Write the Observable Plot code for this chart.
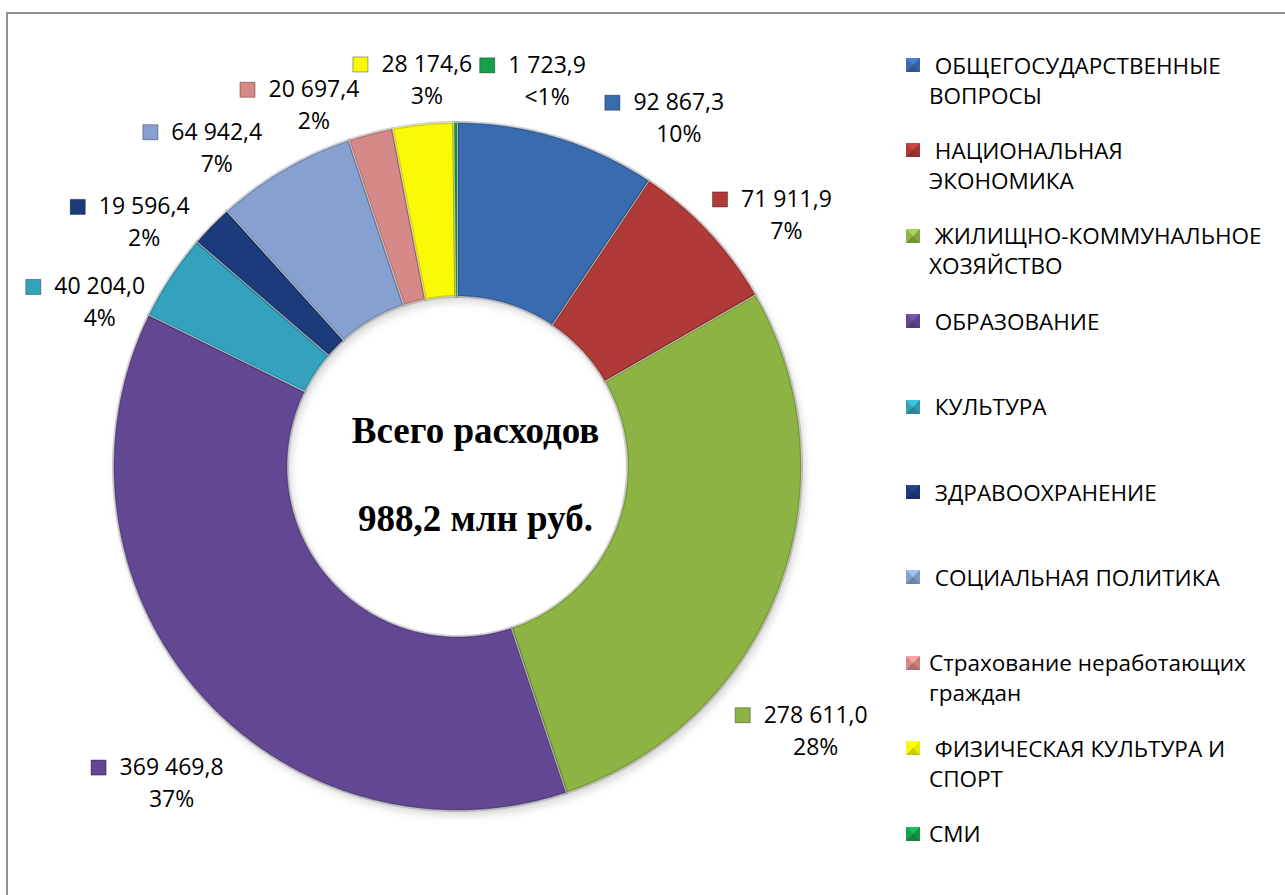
<!DOCTYPE html>
<html><head><meta charset="utf-8">
<script src="https://cdn.jsdelivr.net/npm/d3@7"></script>
<script src="https://cdn.jsdelivr.net/npm/@observablehq/plot@0.6"></script>
<style>
html,body{margin:0;padding:0;background:#fff;overflow:hidden}
#wrap{position:relative;width:1285px;height:895px;overflow:hidden}
#frame{position:absolute;left:6px;top:12px;width:1320px;height:920px;border:2px solid #8e8e8e;box-sizing:border-box}
#chart{position:absolute;left:0;top:0}
#legend{position:absolute;left:0;top:0;font-family:"Open Sans";font-size:22.5px;color:#000}
.item{position:absolute;left:929px;line-height:30px;white-space:pre}
.mk{position:absolute;left:906px;width:0;height:0;border-style:solid;border-width:7.5px}
</style></head>
<body><div id="wrap"><div id="frame"></div><div id="chart"></div><div id="legend"></div></div>
<script>
// ---- data ----
const categories = ["ОБЩЕГОСУДАРСТВЕННЫЕ ВОПРОСЫ","НАЦИОНАЛЬНАЯ ЭКОНОМИКА","ЖИЛИЩНО-КОММУНАЛЬНОЕ ХОЗЯЙСТВО","ОБРАЗОВАНИЕ","КУЛЬТУРА","ЗДРАВООХРАНЕНИЕ","СОЦИАЛЬНАЯ ПОЛИТИКА","Страхование неработающих граждан","ФИЗИЧЕСКАЯ КУЛЬТУРА И СПОРТ","СМИ"];
const legendLabels = [" ОБЩЕГОСУДАРСТВЕННЫЕ\nВОПРОСЫ"," НАЦИОНАЛЬНАЯ\nЭКОНОМИКА"," ЖИЛИЩНО-КОММУНАЛЬНОЕ\nХОЗЯЙСТВО"," ОБРАЗОВАНИЕ"," КУЛЬТУРА"," ЗДРАВООХРАНЕНИЕ"," СОЦИАЛЬНАЯ ПОЛИТИКА","Страхование неработающих\nграждан"," ФИЗИЧЕСКАЯ КУЛЬТУРА И\nСПОРТ","СМИ"];
const values = [92867.3, 71911.9, 278611.0, 369469.8, 40204.0, 19596.4, 64942.4, 20697.4, 28174.6, 1723.9];
const valueLabels = ["92 867,3","71 911,9","278 611,0","369 469,8","40 204,0","19 596,4","64 942,4","20 697,4","28 174,6","1 723,9"];
const pctLabels = ["10%","7%","28%","37%","4%","2%","7%","2%","3%","<1%"];
const centerTitle = ["Всего расходов", "988,2 млн руб."];

// ---- styles / layout ----
const colors = ["#3a6baf","#af3a38","#8db344","#624893","#34a2bc","#1c3b7b","#86a1d0","#d58987","#fafa05","#15a04a"];
const labelNudgeDeg = [14.4, 4.0, 14.0, -5.3, -6.8, -4.7, -5.5, -6.2, 1.4, 12.9];
const labelRadiusPx = [425.8, 423.7, 436.1, 415.2, 400.3, 406.9, 411.9, 403.2, 403.2, 411];
const W = 1285, H = 895, CX = 457, CY = 466, R = 344, RI = 170;
const labelFont = "Open Sans", labelSize = 23;

const pie = d3.pie().sort(null).value(d => d)(values);
const ringPts = [];
pie.forEach((p, i) => {
  const n = Math.max(2, Math.ceil((p.endAngle - p.startAngle) / (Math.PI / 360)));
  const pts = [];
  for (let k = 0; k <= n; k++) pts.push([p.startAngle + (p.endAngle - p.startAngle) * k / n, 1]);
  for (let k = n; k >= 0; k--) pts.push([p.startAngle + (p.endAngle - p.startAngle) * k / n, RI / R]);
  pts.push(pts[0]);
  pts.forEach(([a, r]) => ringPts.push({cat: categories[i], x: r * Math.sin(a), y: r * Math.cos(a)}));
});

const ctx = document.createElement("canvas").getContext("2d");
ctx.font = `${labelSize}px "${labelFont}"`;
const labels = pie.map((p, i) => {
  const a = (p.startAngle + p.endAngle) / 2 + labelNudgeDeg[i] * Math.PI / 180;
  const r = labelRadiusPx[i] / R;
  const x = r * Math.sin(a), y = r * Math.cos(a);
  const w = ctx.measureText(valueLabels[i]).width;
  return {cat: categories[i], x, y, mx: x - (w / 2 + 21) / R, value: valueLabels[i], pct: pctLabels[i]};
});

const chart = Plot.plot({
  width: W, height: H, margin: 0,
  x: {type: "linear", domain: [-CX / R, (W - CX) / R], range: [0, W], axis: null},
  y: {type: "linear", domain: [-(H - CY) / R, CY / R], range: [H, 0], axis: null},
  color: {domain: categories, range: colors},
  style: {background: "transparent", overflow: "visible"},
  marks: [
    Plot.line(ringPts, {x: "x", y: "y", z: "cat", fill: "#000", fillOpacity: 0.16, stroke: "none", dx: 3, dy: 5, imageFilter: "blur(4px)"}),
    Plot.line(ringPts, {x: "x", y: "y", z: "cat", fill: "cat", stroke: "black", strokeOpacity: 0.18, strokeWidth: 3}),
    Plot.line(ringPts, {x: "x", y: "y", z: "cat", fill: "none", stroke: "white", strokeOpacity: 0.3, strokeWidth: 1.2}),
    Plot.dot(labels, {x: "mx", y: "y", symbol: "square", r: 8.5, fill: "cat", stroke: "rgba(0,0,0,0.35)", strokeWidth: 1}),
    Plot.text(labels, {x: "x", y: "y", text: "value", fontSize: labelSize, fontFamily: labelFont, fill: "#000"}),
    Plot.text(labels, {x: "x", y: "y", text: "pct", dy: 32, fontSize: labelSize, fontFamily: labelFont, fill: "#000"}),
    Plot.text([centerTitle.join("\n")], {x: 0, y: 0, text: d => d, dx: 18, dy: -8, fontSize: 37, fontWeight: "bold", fontFamily: "Liberation Serif", lineHeight: 2.4, fill: "#000"})
  ]
});
document.getElementById("chart").appendChild(chart);

// legend
const leg = d3.select("#legend");
categories.forEach((c, i) => {
  const cy = 65.5 + i * 85.4;
  const col = d3.color(colors[i]);
  leg.append("div").attr("class", "mk")
    .style("top", (cy - 7.5) + "px")
    .style("border-top-color", col.brighter(0.5).formatHex())
    .style("border-bottom-color", col.darker(0.6).formatHex())
    .style("border-left-color", col.formatHex())
    .style("border-right-color", col.darker(0.2).formatHex());
  leg.append("div").attr("class", "item").style("top", (cy - 15) + "px").text(legendLabels[i]);
});
</script>
</body></html>
